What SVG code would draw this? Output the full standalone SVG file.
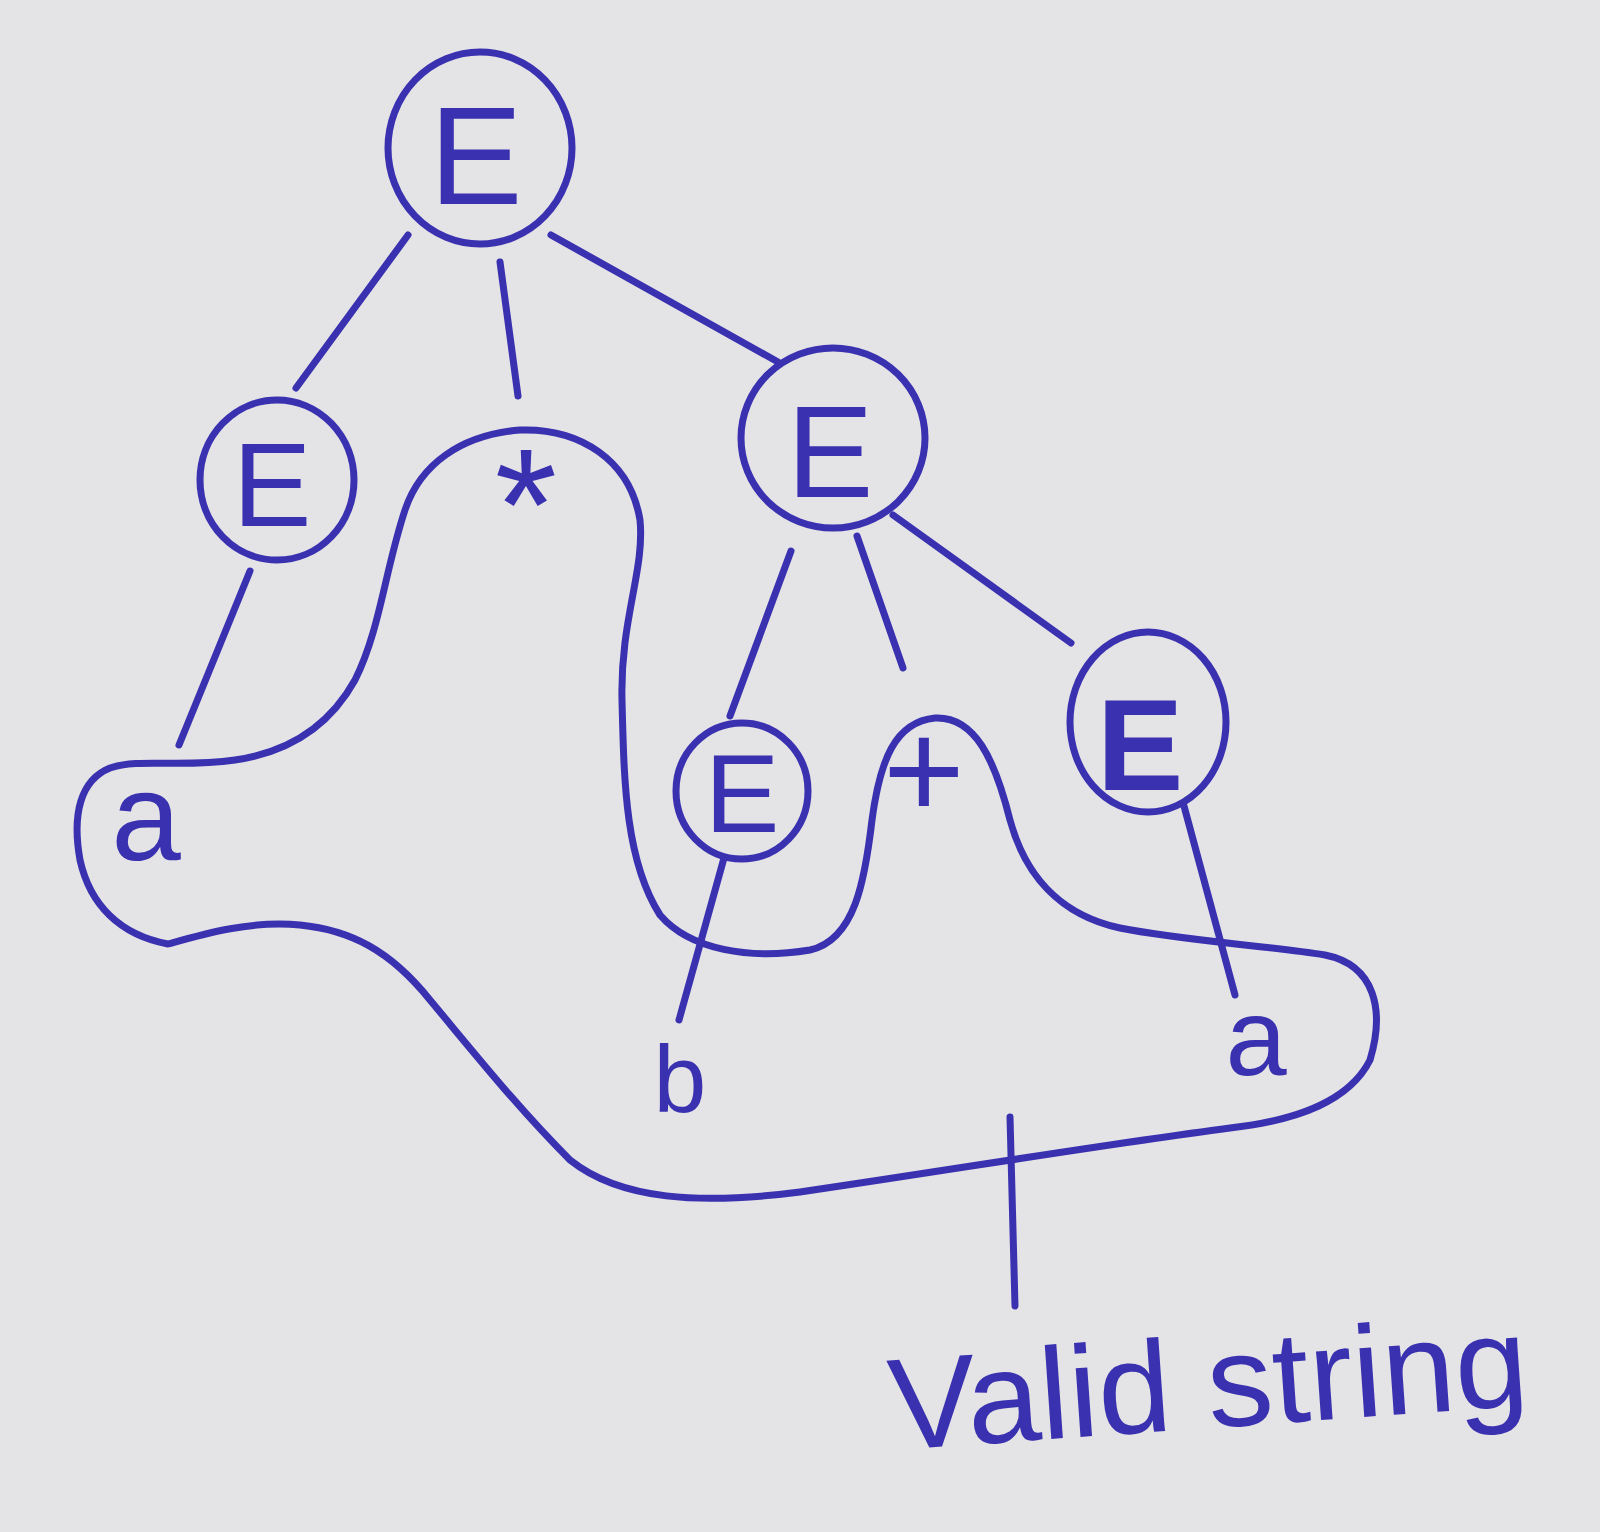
<svg xmlns="http://www.w3.org/2000/svg" width="1600" height="1532" viewBox="0 0 1600 1532">
<style>
.ink{fill:none;stroke:#3a31b0;stroke-width:7;stroke-linecap:round;stroke-linejoin:round}
.lbl{fill:#3a31b0;font-family:"Liberation Sans",Arial,sans-serif;text-anchor:middle}
.hand{fill:#3a31b0;font-family:"Liberation Sans",Arial,sans-serif}
</style>
<rect width="1600" height="1532" fill="#e4e3e6"/>
<g id="connectors" class="ink">
<path d="M408,235 L296,388"/>
<path d="M500,262 L518,396"/>
<path d="M551,235 L778,362"/>
<path d="M250,571 L179,745"/>
<path d="M791,551 L730,716"/>
<path d="M857,536 L903,668"/>
<path d="M893,515 L1071,643"/>
<path d="M724,858 L679,1020"/>
<path d="M1184,806 L1235,995"/>
<path d="M1010,1117 L1015,1306"/>
</g>
<g id="enclosure" class="ink">
<path d="M168,944 C120,935 90,905 80,860 C72,815 80,780 110,768 C140,758 180,768 235,760 C290,752 330,725 355,680 C380,630 385,570 405,510 C420,465 460,435 520,430 C580,428 630,460 640,520 C645,570 620,620 622,700 C624,780 625,860 660,915 C690,950 750,960 810,950 C855,940 865,880 872,820 C880,760 895,722 935,718 C975,716 995,760 1010,820 C1025,875 1060,915 1120,928 C1180,940 1260,945 1325,955 C1375,965 1385,1010 1370,1060 C1350,1100 1300,1120 1230,1128 C1100,1145 950,1170 800,1192 C700,1205 620,1200 570,1160 C520,1110 480,1060 430,1000 C390,950 350,930 300,925 C250,920 200,935 168,944 Z"/>
</g>
<g id="n-root">
<ellipse class="ink" cx="480" cy="148" rx="92" ry="96"/>
<text class="lbl" x="476" y="204" font-size="140">E</text>
</g>
<g id="n-left-e">
<ellipse class="ink" cx="277" cy="480" rx="77" ry="80"/>
<text class="lbl" x="272" y="526" font-size="118">E</text>
</g>
<g id="n-star">
<text class="lbl" x="526" y="560" font-size="160">*</text>
</g>
<g id="n-right-e">
<ellipse class="ink" cx="833" cy="438" rx="92" ry="90"/>
<text class="lbl" x="830" y="497" font-size="130">E</text>
</g>
<g id="n-mid-e">
<ellipse class="ink" cx="742" cy="791" rx="66" ry="68"/>
<text class="lbl" x="742" y="832" font-size="112">E</text>
</g>
<g id="n-plus">
<text class="lbl" x="924" y="818" font-size="140">+</text>
</g>
<g id="n-rr-e">
<ellipse class="ink" cx="1148" cy="722" rx="78" ry="90"/>
<text class="lbl" x="1140" y="790" font-size="130" font-weight="bold">E</text>
</g>
<g id="n-a-left">
<text class="lbl" x="146" y="860" font-size="125">a</text>
</g>
<g id="n-b">
<text class="lbl" x="680" y="1112" font-size="95">b</text>
</g>
<g id="n-a-right">
<text class="lbl" x="1256" y="1075" font-size="110">a</text>
</g>
<g id="label-valid">
<text class="hand" x="892" y="1450" font-size="130" textLength="640" lengthAdjust="spacingAndGlyphs" transform="rotate(-4 892 1450)">Valid string</text>
</g>
</svg>
